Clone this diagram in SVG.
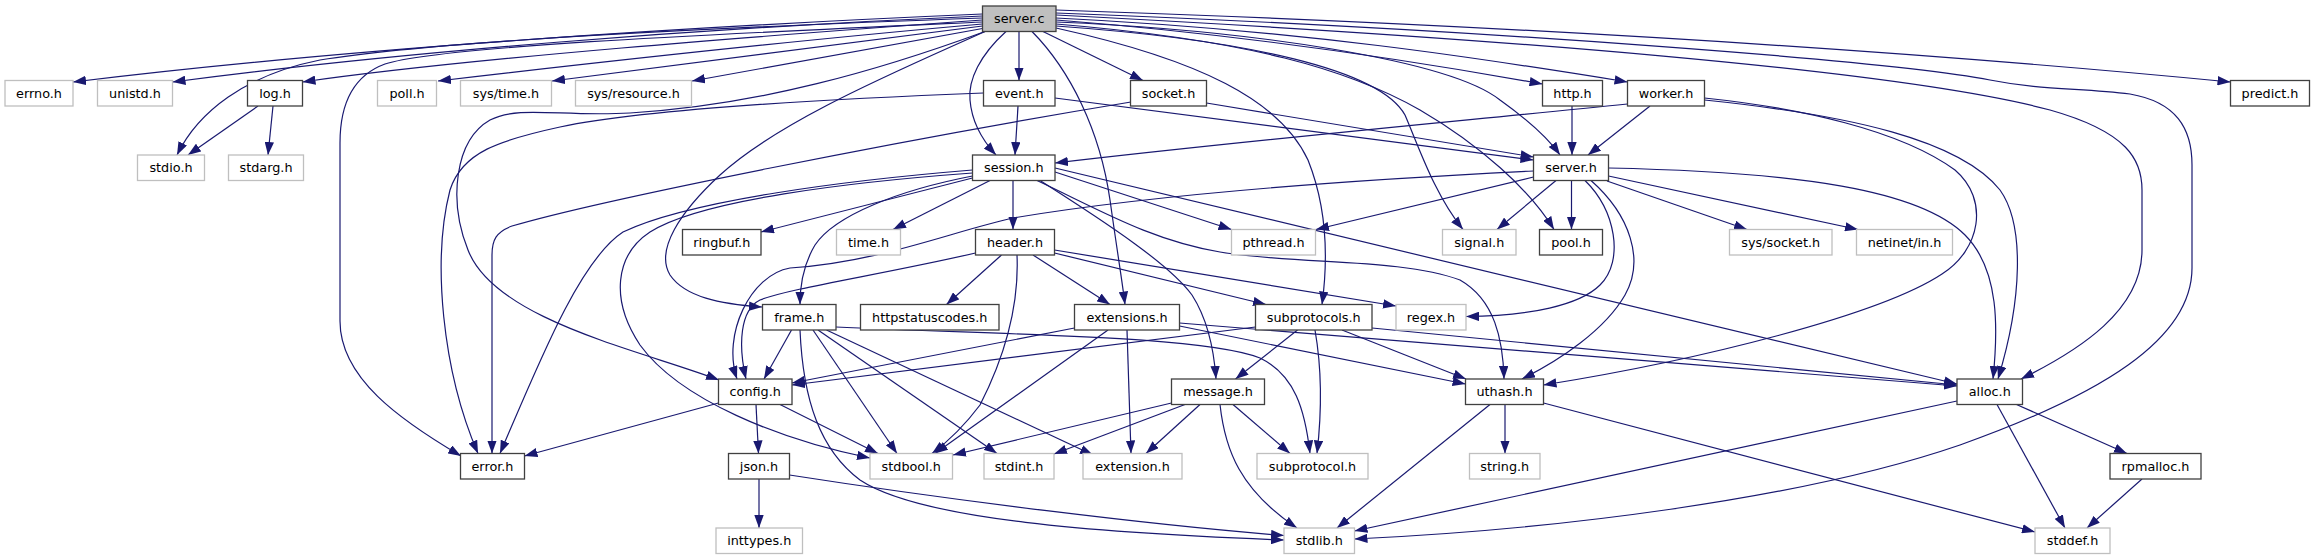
<svg xmlns="http://www.w3.org/2000/svg" width="2315" height="560" viewBox="0 0 2315 560">
<style>
rect{fill:#fff;stroke-width:1.3}
.d rect{stroke:#404040}
.u rect{stroke:#bfbfbf}
.r rect{fill:#bfbfbf;stroke:#404040}
text{font-family:"DejaVu Sans","Liberation Sans",sans-serif;font-size:12.8px;fill:#000;text-anchor:middle}
#edges path{fill:none;stroke:#191970;stroke-width:1.2;marker-end:url(#arrow)}
</style>
<defs>
<marker id="arrow" viewBox="0 0 13 9.4" refX="13" refY="4.7" markerWidth="13" markerHeight="9.4" markerUnits="userSpaceOnUse" orient="auto">
<path d="M0,0 L13,4.7 L0,9.4 z" fill="#191970"/>
</marker>
</defs>
<rect x="0" y="0" width="2315" height="560" style="fill:#fff;stroke:none"/>
<g id="edges">
<path d="M982.5,14 C700,26 350,48 73,82"/>
<path d="M982.5,16 C700,28 400,52 172.5,82"/>
<path d="M982.5,18 C700,28 430,42 320,60 C245,75 198,112 177,155"/>
<path d="M982.5,20 C760,36 470,58 302.5,82"/>
<path d="M982.5,22 C720,34 440,46 385,64 C352,76 340,105 340,143 L340,321 C340,378 400,420 461,456"/>
<path d="M982.5,24 C800,40 600,62 438,81"/>
<path d="M982.5,26 L552,81"/>
<path d="M982.5,28.5 L692,81"/>
<path d="M985,31.5 C880,70 760,105 630,113 C560,117 520,105 490,120 C455,140 448,200 468,250 C495,320 640,350 719,380"/>
<path d="M985,31.5 C900,70 780,120 720,175 C680,212 655,250 670,275 C685,297 720,304 762,307"/>
<path d="M1006,31.5 C980,55 968,80 970,100 C972,125 984,142 996,155"/>
<path d="M1019,31.5 L1019,80.5"/>
<path d="M1032,31.5 C1070,70 1100,130 1110,200 C1117,250 1122,280 1125,304.5"/>
<path d="M1043,31.5 L1143,80.5"/>
<path d="M1056,28 C1200,60 1280,100 1308,160 C1328,210 1328,260 1322,304.5"/>
<path d="M1056,26 C1250,40 1380,70 1405,115 C1420,150 1435,195 1463,229.5"/>
<path d="M1056,24 C1250,40 1350,70 1420,110 C1480,145 1530,190 1554,229.5"/>
<path d="M1056,22 C1250,30 1450,60 1500,100 C1528,120 1548,138 1560,155"/>
<path d="M1056,20 C1250,35 1420,62 1542.5,84"/>
<path d="M1056,18 C1300,30 1480,58 1627.5,82"/>
<path d="M1056,15 C1500,38 1900,70 2050,110 C2128,132 2142,160 2142,190 L2142,250 C2142,310 2080,350 2021,379"/>
<path d="M1056,13 C1500,30 1900,62 1990,80 C2040,90 2080,88 2130,94 C2176,102 2192,128 2192,165 L2192,268 C2192,340 2100,395 1960,445 C1800,500 1550,530 1354.5,539"/>
<path d="M1056,10 C1500,25 1900,50 2230.5,82"/>
<path d="M1018,106 L1015,155"/>
<path d="M1055,98 L1533.5,160"/>
<path d="M983.5,93 C800,100 640,110 560,127 C500,140 462,152 450,190 C432,260 442,370 478,453.5"/>
<path d="M1206.5,103 L1533.5,157"/>
<path d="M1131,102 C900,140 600,200 512,226 C496,232 492,240 492,255 L492,453.5"/>
<path d="M1572,106 L1572,155"/>
<path d="M1650,106 L1588,155"/>
<path d="M1627.5,104 C1450,122 1250,140 1055,163"/>
<path d="M1704.5,98 C1800,108 1900,130 1955,170 C1990,200 1980,250 1942,274 C1880,315 1700,360 1543.5,385"/>
<path d="M1704.5,100 C1850,115 1960,140 2000,190 C2025,225 2022,300 1998,379"/>
<path d="M1533.5,171 C1350,180 1150,195 1013,218 C950,232 880,262 790,268 C750,275 722,335 737,379"/>
<path d="M1533.5,177 L1316,229.5"/>
<path d="M1556,180.5 L1497,229.5"/>
<path d="M1571.5,180.5 L1571.5,229.5"/>
<path d="M1607,181 L1747,229.5"/>
<path d="M1608.5,176 L1858,229.5"/>
<path d="M1585,180.5 C1615,210 1625,260 1600,285 C1580,305 1530,316 1466,316.5"/>
<path d="M1591,180.5 C1630,215 1645,260 1625,295 C1605,330 1560,360 1522,379"/>
<path d="M1608.5,168 C1800,172 1920,190 1965,235 C2000,270 1998,330 1993,379"/>
<path d="M972.5,170 C850,180 690,200 623,232 C580,260 540,360 500,453.5"/>
<path d="M972.5,173 C850,182 700,200 650,232 C615,255 610,300 640,345 C680,400 780,440 870,458"/>
<path d="M972.5,178 L761,232"/>
<path d="M990,180.5 L893,229.5"/>
<path d="M1013,180.5 L1013,229.5"/>
<path d="M972.5,176 C900,190 835,215 815,245 C803,265 800,285 800,304.5"/>
<path d="M1055,172 L1231.5,229.5"/>
<path d="M1055,168 L1957,384"/>
<path d="M1037,180.5 C1100,210 1150,240 1220,252 C1300,265 1400,258 1460,280 C1495,300 1503,340 1504,379"/>
<path d="M1040,180.5 C1110,225 1170,265 1192,295 C1208,320 1214,350 1216,379"/>
<path d="M975.5,253 C880,275 790,288 760,300 C740,310 738,345 746,379"/>
<path d="M1001.5,255 L946.5,304.5"/>
<path d="M1033,255 L1110,304.5"/>
<path d="M1017,255 C1019,300 1008,350 980,405 C965,425 950,440 932,453.5"/>
<path d="M1054.5,250 L1396,306"/>
<path d="M1054.5,253 L1266,304.5"/>
<path d="M791.5,330 L764,379"/>
<path d="M813,330 L897,453.5"/>
<path d="M818,330 L997,453.5"/>
<path d="M826.5,330 L1093,455"/>
<path d="M800,330 C803,400 820,450 860,480 C920,520 1100,533 1284,540"/>
<path d="M836,327 C1000,335 1200,335 1260,358 C1295,375 1305,410 1310,453.5"/>
<path d="M1074.5,328 L792,383"/>
<path d="M1108,330 L935,453.5"/>
<path d="M1127,330 L1131,453.5"/>
<path d="M1179.5,326 L1465.5,384"/>
<path d="M1179.5,323 L1957,386"/>
<path d="M1255.5,327 L792,385"/>
<path d="M1297.5,330 L1235.5,379"/>
<path d="M1342,330 L1466,379"/>
<path d="M1315,330 C1322,370 1322,410 1317,453.5"/>
<path d="M1372,328 L1957,385"/>
<path d="M1171.5,403 L953,455"/>
<path d="M1185,404.5 L1054,454"/>
<path d="M1200,404.5 L1146,453.5"/>
<path d="M1220,404.5 C1225,450 1240,490 1297,528"/>
<path d="M1233,404.5 L1290,453.5"/>
<path d="M1505,404.5 L1505,453.5"/>
<path d="M1490,404.5 L1337,528"/>
<path d="M1543.5,403 L2035,532"/>
<path d="M1957,401 L1354.5,531"/>
<path d="M1997,404.5 L2065,528"/>
<path d="M2016.5,404.5 L2127,453.5"/>
<path d="M2142,479 L2087,528"/>
<path d="M718.5,403 L524.5,456"/>
<path d="M756,404.5 L758.5,453.5"/>
<path d="M780,404.5 L878,453.5"/>
<path d="M759,479 L759,528"/>
<path d="M789.5,475 C950,500 1150,525 1284,535.5"/>
<path d="M258,106 L188,155"/>
<path d="M273,106 L268,155"/>
</g>
<g id="n-server-c" class="r"><rect x="982.5" y="6" width="73.5" height="25.5"/><text x="1019.25" y="23.4">server.c</text></g>
<g id="n-errno" class="u"><rect x="5" y="80.5" width="68" height="25.5"/><text x="39" y="97.9">errno.h</text></g>
<g id="n-unistd" class="u"><rect x="97.5" y="80.5" width="75" height="25.5"/><text x="135" y="97.9">unistd.h</text></g>
<g id="n-log" class="d"><rect x="247.5" y="80.5" width="55" height="25.5"/><text x="275" y="97.9">log.h</text></g>
<g id="n-poll" class="u"><rect x="377.5" y="80.5" width="59" height="25.5"/><text x="407" y="97.9">poll.h</text></g>
<g id="n-systime" class="u"><rect x="460.5" y="80.5" width="91" height="25.5"/><text x="506" y="97.9">sys/time.h</text></g>
<g id="n-sysresource" class="u"><rect x="575.5" y="80.5" width="116" height="25.5"/><text x="633.5" y="97.9">sys/resource.h</text></g>
<g id="n-event" class="d"><rect x="983.5" y="80.5" width="71.5" height="25.5"/><text x="1019.25" y="97.9">event.h</text></g>
<g id="n-socket" class="d"><rect x="1130.5" y="80.5" width="76" height="25.5"/><text x="1168.5" y="97.9">socket.h</text></g>
<g id="n-http" class="d"><rect x="1542.5" y="80.5" width="60" height="25.5"/><text x="1572.5" y="97.9">http.h</text></g>
<g id="n-worker" class="d"><rect x="1627.5" y="80.5" width="77" height="25.5"/><text x="1666" y="97.9">worker.h</text></g>
<g id="n-predict" class="d"><rect x="2230.5" y="80.5" width="79" height="25.5"/><text x="2270" y="97.9">predict.h</text></g>
<g id="n-stdio" class="u"><rect x="137.5" y="155" width="67" height="25.5"/><text x="171" y="172.4">stdio.h</text></g>
<g id="n-stdarg" class="u"><rect x="228.5" y="155" width="75" height="25.5"/><text x="266" y="172.4">stdarg.h</text></g>
<g id="n-session" class="d"><rect x="972.5" y="155" width="82.5" height="25.5"/><text x="1013.75" y="172.4">session.h</text></g>
<g id="n-server-h" class="d"><rect x="1533.5" y="155" width="75" height="25.5"/><text x="1571" y="172.4">server.h</text></g>
<g id="n-ringbuf" class="d"><rect x="682.5" y="229.5" width="78.5" height="25.5"/><text x="721.75" y="246.9">ringbuf.h</text></g>
<g id="n-time" class="u"><rect x="836.5" y="229.5" width="64" height="25.5"/><text x="868.5" y="246.9">time.h</text></g>
<g id="n-header" class="d"><rect x="975.5" y="229.5" width="79" height="25.5"/><text x="1015" y="246.9">header.h</text></g>
<g id="n-pthread" class="u"><rect x="1231.5" y="229.5" width="84" height="25.5"/><text x="1273.5" y="246.9">pthread.h</text></g>
<g id="n-signal" class="u"><rect x="1442.5" y="229.5" width="73.5" height="25.5"/><text x="1479.25" y="246.9">signal.h</text></g>
<g id="n-pool" class="d"><rect x="1539.5" y="229.5" width="63" height="25.5"/><text x="1571" y="246.9">pool.h</text></g>
<g id="n-syssocket" class="u"><rect x="1729.5" y="229.5" width="102.5" height="25.5"/><text x="1780.75" y="246.9">sys/socket.h</text></g>
<g id="n-netinet" class="u"><rect x="1856.5" y="229.5" width="96" height="25.5"/><text x="1904.5" y="246.9">netinet/in.h</text></g>
<g id="n-frame" class="d"><rect x="762.5" y="304.5" width="73.5" height="25.5"/><text x="799.25" y="321.9">frame.h</text></g>
<g id="n-httpstatus" class="d"><rect x="860.5" y="304.5" width="138.5" height="25.5"/><text x="929.75" y="321.9">httpstatuscodes.h</text></g>
<g id="n-extensions" class="d"><rect x="1074.5" y="304.5" width="105" height="25.5"/><text x="1127" y="321.9">extensions.h</text></g>
<g id="n-subprotocols" class="d"><rect x="1255.5" y="304.5" width="116.5" height="25.5"/><text x="1313.75" y="321.9">subprotocols.h</text></g>
<g id="n-regex" class="u"><rect x="1396" y="304.5" width="70" height="25.5"/><text x="1431" y="321.9">regex.h</text></g>
<g id="n-config" class="d"><rect x="718.5" y="379" width="73.5" height="25.5"/><text x="755.25" y="396.4">config.h</text></g>
<g id="n-message" class="d"><rect x="1171.5" y="379" width="93" height="25.5"/><text x="1218" y="396.4">message.h</text></g>
<g id="n-uthash" class="d"><rect x="1465.5" y="379" width="78" height="25.5"/><text x="1504.5" y="396.4">uthash.h</text></g>
<g id="n-alloc" class="d"><rect x="1957" y="379" width="65.5" height="25.5"/><text x="1989.75" y="396.4">alloc.h</text></g>
<g id="n-error" class="d"><rect x="460.5" y="453.5" width="64" height="25.5"/><text x="492.5" y="470.9">error.h</text></g>
<g id="n-json" class="d"><rect x="728.5" y="453.5" width="61" height="25.5"/><text x="759" y="470.9">json.h</text></g>
<g id="n-stdbool" class="u"><rect x="870" y="453.5" width="82.5" height="25.5"/><text x="911.25" y="470.9">stdbool.h</text></g>
<g id="n-stdint" class="u"><rect x="984" y="453.5" width="70" height="25.5"/><text x="1019" y="470.9">stdint.h</text></g>
<g id="n-extension" class="u"><rect x="1083" y="453.5" width="99" height="25.5"/><text x="1132.5" y="470.9">extension.h</text></g>
<g id="n-subprotocol" class="u"><rect x="1257" y="453.5" width="111" height="25.5"/><text x="1312.5" y="470.9">subprotocol.h</text></g>
<g id="n-string" class="u"><rect x="1469.5" y="453.5" width="70.5" height="25.5"/><text x="1504.75" y="470.9">string.h</text></g>
<g id="n-rpmalloc" class="d"><rect x="2110" y="453.5" width="91" height="25.5"/><text x="2155.5" y="470.9">rpmalloc.h</text></g>
<g id="n-inttypes" class="u"><rect x="716" y="528" width="86.5" height="25.5"/><text x="759.25" y="545.4">inttypes.h</text></g>
<g id="n-stdlib" class="u"><rect x="1284" y="528" width="70.5" height="25.5"/><text x="1319.25" y="545.4">stdlib.h</text></g>
<g id="n-stddef" class="u"><rect x="2035" y="528" width="75" height="25.5"/><text x="2072.5" y="545.4">stddef.h</text></g>
</svg>
